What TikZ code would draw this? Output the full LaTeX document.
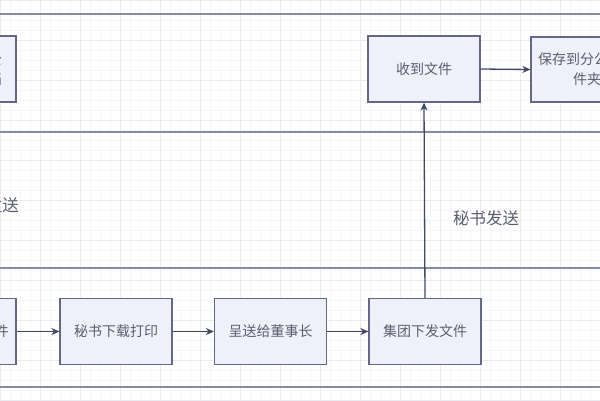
\documentclass[tikz,border=0pt]{standalone}
\usepackage{fontspec}
\newfontfamily\cjk{Noto Sans CJK SC}
\usetikzlibrary{arrows.meta}
\definecolor{boxfill}{HTML}{EEF0FA}
\definecolor{boxline}{HTML}{646886}
\definecolor{laneline}{HTML}{878BA2}
\definecolor{txt}{HTML}{5C5E6E}
\definecolor{arr}{HTML}{424765}
\definecolor{gridminor}{HTML}{F5F6F9}
\definecolor{gridmajor}{HTML}{EAEBF1}
\tikzset{
  stepbox/.style={draw=boxline, fill=boxfill, line width=1.3pt, minimum width=112pt,
    minimum height=66pt, inner sep=0pt, font=\cjk\fontsize{14}{20}\selectfont, text=txt, align=center},
  lane/.style={draw=laneline, line width=2.2pt},
  flow/.style={draw=arr, line width=1.3pt, -{Stealth[length=8pt,width=7pt]}},
  lbl/.style={font=\cjk\fontsize{16.5}{20}\selectfont, text=txt, inner sep=0pt}
}
\begin{document}
\begin{tikzpicture}[x=1pt,y=-1pt]
\useasboundingbox (0,0) rectangle (600,400);
\clip (0,0) rectangle (600,400);
\fill[white] (0,0) rectangle (600,400);
% background grid
\draw[gridminor, line width=0.5pt] (0,0) grid[step=10pt] (600,400);
\draw[gridmajor, line width=0.6pt] (0,0) grid[step=40pt] (600,400);
% lane borders
\draw[lane] (0,14) -- (600,14);
\draw[lane] (0,132) -- (600,132);
\draw[lane] (0,268) -- (600,268);
\draw[lane] (0,387) -- (600,387);
% top lane
\node[stepbox] (tl) at (-40,69) {保存到集团公\\司文件夹存档};
\node[stepbox] (sd) at (424,69) {收到文件};
\node[stepbox, minimum height=65pt] (bc) at (587,69.5) {保存到分公司文\\件夹};
% middle lane label (cut at the left edge)
\node[lbl, anchor=east] (ml) at (19,205) {秘书发送};
% bottom lane
\node[stepbox] (bl) at (-40,331.5) {已收到集团文件};
\node[stepbox] (dy) at (116,331.5) {秘书下载打印};
\node[stepbox] (cs) at (270.5,331.5) {呈送给董事长};
\node[stepbox] (jt) at (425,331.5) {集团下发文件};
% connectors
\draw[flow] (bl.east) -- (dy.west);
\draw[flow] (dy.east) -- (cs.west);
\draw[flow] (cs.east) -- (jt.west);
\draw[flow] (jt.north) -- (sd.south);
\draw[flow] (sd.east) -- (bc.west);
\node[lbl] (ms) at (486,218) {秘书发送};
\end{tikzpicture}
\end{document}
